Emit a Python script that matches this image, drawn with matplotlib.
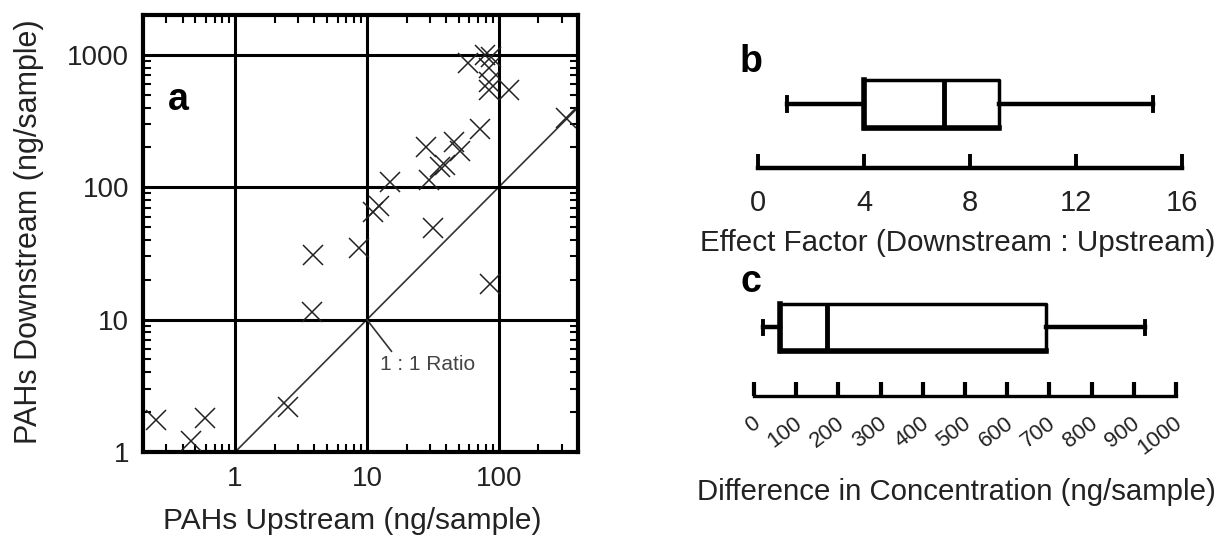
import numpy as np
import matplotlib
matplotlib.use("Agg")
import matplotlib.pyplot as plt
from matplotlib import ticker, transforms

plt.rcParams["font.family"] = ["Liberation Sans", "DejaVu Sans"]

# panel a: PAHs upstream vs downstream (ng/sample)
upstream = [0.25, 0.46, 0.59, 2.5, 3.8, 3.9, 8.7, 11.1, 12.3, 32, 86, 325,
            15, 29.5, 36, 39, 28, 46, 51, 72, 119, 84, 84, 84, 59, 79, 88]
downstream = [1.73, 1.22, 1.8, 2.2, 11.4, 30.7, 34.5, 65, 72, 49, 18.7, 335,
              110, 114, 142, 147, 200, 220, 188, 275, 543, 543, 628, 792, 865, 1000, 960]

# panel b: effect factor summary (whisker low, q1, median, q3, whisker high)
effect_stats = [1.1, 4.0, 7.0, 9.1, 14.9]
effect_ticks = [0, 4, 8, 12, 16]

# panel c: difference in concentration summary
diff_stats = [21, 62, 173, 692, 927]
diff_ticks = [0, 100, 200, 300, 400, 500, 600, 700, 800, 900, 1000]

W, H = 1225, 537
fig = plt.figure(figsize=(W / 100, H / 100), dpi=100)
txt = "#222222"


def px_axes(l, t, r, b):
    return fig.add_axes([l / W, 1 - b / H, (r - l) / W, (b - t) / H])


# ---- panel a ----
ax = px_axes(143, 15, 578, 452)
ax.set_xscale("log")
ax.set_yscale("log")
ax.set_xlim(0.2, 400)
ax.set_ylim(1, 2000)
ax.plot([1, 400], [1, 400], color="#333333", lw=1.2, zorder=2)
ax.plot(upstream, downstream, ls="none", marker="x", ms=14, mew=1.1,
        color="#222222", zorder=3)
ax.set_xticks([1, 10, 100])
ax.set_yticks([1, 10, 100, 1000])
fmt = ticker.FuncFormatter(lambda v, p: f"{v:g}")
ax.xaxis.set_major_formatter(fmt)
ax.yaxis.set_major_formatter(fmt)
ax.xaxis.set_minor_locator(ticker.LogLocator(base=10, subs=np.arange(2, 10), numticks=20))
ax.yaxis.set_minor_locator(ticker.LogLocator(base=10, subs=np.arange(2, 10), numticks=20))
ax.xaxis.set_minor_formatter(ticker.NullFormatter())
ax.yaxis.set_minor_formatter(ticker.NullFormatter())
ax.tick_params(which="major", length=0, labelsize=20, labelcolor=txt, pad=10)
ax.tick_params(which="minor", direction="in", length=6, width=1.5,
               top=True, right=True)
ax.grid(which="major", color="black", lw=2.2)
for s in ax.spines.values():
    s.set_linewidth(3)
ax.set_axisbelow(False)
ax.set_xlabel("PAHs Upstream (ng/sample)", fontsize=21.5, color=txt, va="top")
ax.set_ylabel("PAHs Downstream (ng/sample)", fontsize=22, color=txt, va="bottom")
ax.xaxis.set_label_coords(0.48, -0.125)
ax.yaxis.set_label_coords(-0.228, 0.505)
# 1:1 ratio label with its leader line
ax.annotate("", xy=(10, 10), xytext=(15.4, 5.75),
            arrowprops=dict(arrowstyle="-", color="#333333", lw=1.2,
                            shrinkA=0, shrinkB=0))
ax.text(12.6, 4.55, "1 : 1 Ratio", fontsize=15, color="#444444",
        va="center", ha="left")


def box_panel(axb, stats, ticks, pos, wid, cap):
    st = dict(whislo=stats[0], q1=stats[1], med=stats[2], q3=stats[3],
              whishi=stats[4], fliers=[])
    parts = axb.bxp([st], positions=[pos], widths=wid, orientation="horizontal",
                    showfliers=False, capwidths=cap,
                    boxprops=dict(color="black", lw=2.5),
                    medianprops=dict(color="black", lw=3.5),
                    whiskerprops=dict(color="black", lw=3.2),
                    capprops=dict(color="black", lw=2.8))
    # heavier left and bottom edges, as in the printed figure
    bx = parts["boxes"][0]
    xs, ys = np.asarray(bx.get_xdata()), np.asarray(bx.get_ydata())
    x0, x1, y0, y1 = xs.min(), xs.max(), ys.min(), ys.max()
    axb.plot([x0, x0, x1], [y1, y0, y0], color="black", lw=4,
             solid_capstyle="projecting", solid_joinstyle="miter")
    axb.set_ylim(0, 1)
    axb.set_xticks(ticks)
    axb.set_yticks([])
    for k in ("top", "left", "right"):
        axb.spines[k].set_visible(False)
    axb.set_facecolor("none")


# ---- panel b ----
axb = px_axes(758, 70, 1182, 168)
box_panel(axb, effect_stats, effect_ticks, 0.653, 0.49, 0.133)
axb.set_xlim(0, 16)
axb.spines["bottom"].set_linewidth(3.2)
axb.tick_params(axis="x", direction="in", length=10, width=2.8,
                labelsize=21, labelcolor=txt, pad=15)
axb.set_xlabel("Effect Factor (Downstream : Upstream)", fontsize=21.3, color=txt, va="top")
axb.xaxis.set_label_coords(0.47, -0.62)

# ---- panel c ----
axc = px_axes(754, 294, 1176, 396)
box_panel(axc, diff_stats, diff_ticks, 0.672, 0.46, 0.13)
axc.set_xlim(0, 1000)
axc.spines["bottom"].set_linewidth(2.4)
axc.tick_params(axis="x", direction="in", length=10, width=3,
                labelsize=16, labelcolor=txt, pad=12)
shift = transforms.ScaledTranslation(0.10, 0, fig.dpi_scale_trans)
for lab in axc.get_xticklabels():
    lab.set_rotation(37)
    lab.set_ha("right")
    lab.set_transform(lab.get_transform() + shift)
axc.set_xlabel("Difference in Concentration (ng/sample)", fontsize=21.2, color=txt, va="top")
axc.xaxis.set_label_coords(0.48, -0.8)

# panel letters
fig.text(168 / W, 1 - 110 / H, "a", fontsize=27, fontweight="bold", va="baseline")
fig.text(740 / W, 1 - 72 / H, "b", fontsize=27, fontweight="bold", va="baseline")
fig.text(740 / W, 1 - 292 / H, "c", fontsize=27, fontweight="bold", va="baseline")

fig.savefig("out.png", dpi=100)
